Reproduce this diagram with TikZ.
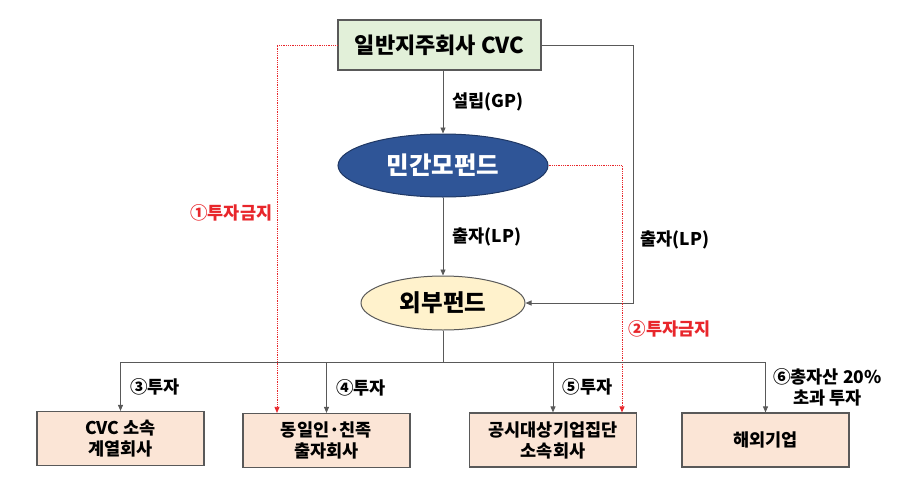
\documentclass[tikz,border=0pt]{standalone}
\usepackage{fontspec}
\setmainfont{Noto Sans CJK KR}
\usepackage{tikz}
\usetikzlibrary{shapes.geometric, arrows.meta, positioning}

\definecolor{lnGray}{HTML}{595959}
\definecolor{cvcGreen}{HTML}{E2F0D9}
\definecolor{fundBlue}{HTML}{2F5597}
\definecolor{fundEdge}{HTML}{203864}
\definecolor{extYellow}{HTML}{FFF2CC}
\definecolor{boxPeach}{HTML}{FBE5D6}
\definecolor{banRed}{HTML}{E8262B}

\begin{document}
\begin{tikzpicture}[
    x=1pt, y=-1pt,
    font=\bfseries,
    topbox/.style={draw=lnGray, line width=1.2pt, fill=cvcGreen, minimum width=203pt, minimum height=50pt, font=\bfseries\fontsize{22}{26}\selectfont},
    fundoval/.style={ellipse, draw=fundEdge, line width=1pt, fill=fundBlue, text=white, minimum width=210pt, minimum height=63pt, font=\bfseries\fontsize{24.5}{28}\selectfont},
    extoval/.style={ellipse, draw=lnGray, line width=1pt, fill=extYellow, minimum width=164pt, minimum height=54pt, font=\bfseries\fontsize{23.5}{28}\selectfont},
    firmbox/.style={draw=lnGray, line width=1.2pt, fill=boxPeach, align=center, minimum width=167pt, minimum height=54pt, font=\bfseries\fontsize{17.5}{21}\selectfont},
    lbl/.style={font=\bfseries\fontsize{17.5}{21}\selectfont, align=center},
    banlbl/.style={lbl, text=banRed},
    arr/.style={-{Triangle[length=6pt, width=5pt]}, draw=lnGray, line width=0.9pt},
    ban/.style={-{Triangle[length=6pt, width=5pt]}, draw=banRed, densely dotted, line width=0.8pt},
]
\useasboundingbox (0,0) rectangle (915,482);

% Top: holding company CVC and the two funds
\node[topbox] (cvc) at (439.5,45) {일반지주회사 CVC};
\node[fundoval] (priv) at (443,165.5) {민간모펀드};
\node[extoval] (ext) at (443,303) {외부펀드};

% Bottom: investee firms
\node[firmbox] (aff) at (120.5,438.5) {CVC 소속\\계열회사};
\node[firmbox] (peer) at (326.5,440.5) {동일인·친족\\출자회사};
\node[firmbox] (pub) at (553,440) {공시대상기업집단\\소속회사};
\node[firmbox] (abroad) at (765.5,440) {해외기업};

% Funding arrows
\draw[arr] (cvc.south -| priv.north) -- node[lbl, right=6pt] {설립(GP)} (priv.north);
\draw[arr] (priv.south) -- node[lbl, right=6pt] {출자(LP)} (ext.north);
\coordinate (rt) at (633,45);
\draw[arr] (cvc.east) -- (rt) |- node[lbl, pos=0.378, right=4pt] {출자(LP)} (ext.east);

% Prohibited investments
\draw[ban] (cvc.west) -| node[banlbl, pos=0.728, left=1pt] {①투자금지} ([xshift=-49.5]peer.north);
\draw[ban] (priv.east) -| node[banlbl, pos=0.83, right=3pt] {②투자금지} ([xshift=69]pub.north);

% Investment bus
\coordinate (bus) at (443,362);
\draw[lnGray, line width=0.9pt] (ext.south) -- (bus);
\draw[lnGray, line width=0.9pt] (bus -| aff.north) -- (bus -| abroad.north);
\draw[arr] (bus -| aff.north) -- node[lbl, right=6pt] {③투자} (aff.north);
\draw[arr] (bus -| peer.north) -- node[lbl, right=6pt] {④투자} (peer.north);
\draw[arr] (bus -| pub.north) -- node[lbl, right=6pt] {⑤투자} (pub.north);
\draw[arr] (bus -| abroad.north) -- node[lbl, right=4pt] {⑥총자산 20\%\\초과 투자} (abroad.north);
\end{tikzpicture}
\end{document}
